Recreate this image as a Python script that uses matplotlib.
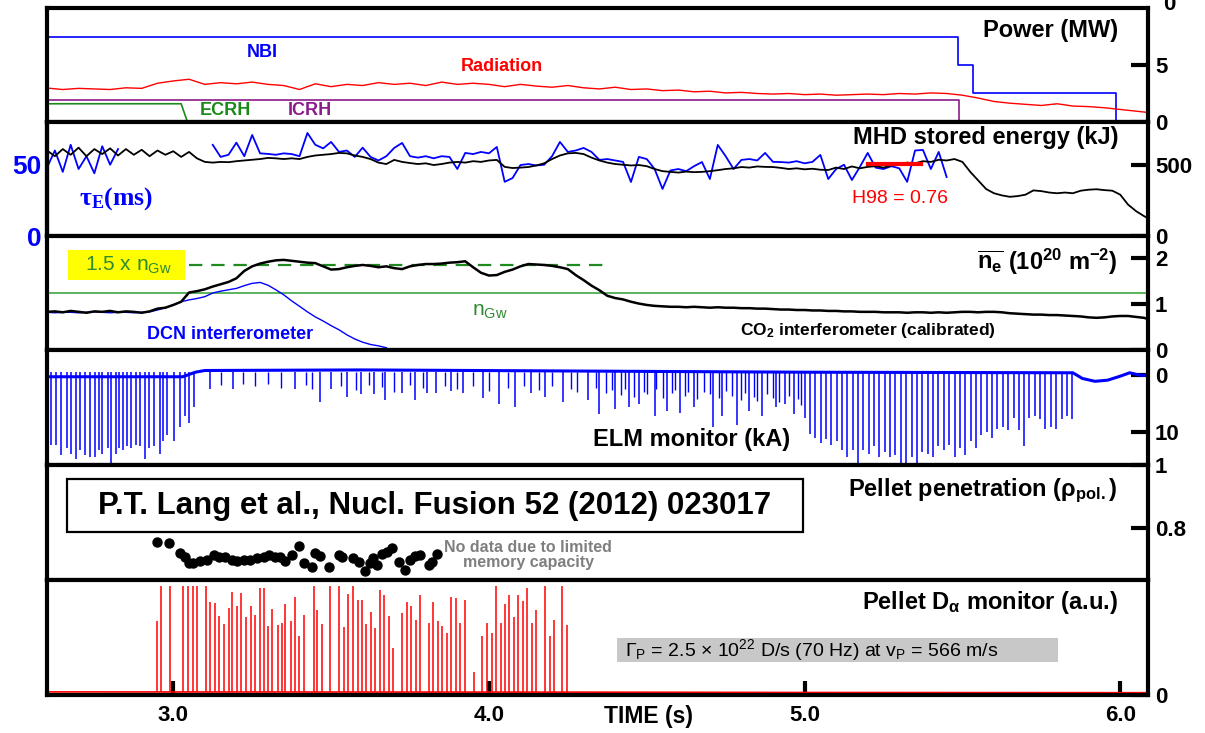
import numpy as np
import matplotlib
matplotlib.use('Agg')
import matplotlib.pyplot as plt
from matplotlib.patches import Rectangle

plt.rcParams['font.family'] = ['Liberation Sans', 'DejaVu Sans']
plt.rcParams['font.weight'] = 'bold'
plt.rcParams['mathtext.default'] = 'regular'

# ---------------- data ----------------
T0 = 2.60          # start of all sampled traces (s)
DT = 0.025         # sampling of W_MHD, tau_E and line density
DT_RAD = 0.05      # sampling of radiated power

# heating power (MW), piecewise constant
nbi_t = [2.60, 5.487, 5.534, 5.987, 6.10]
nbi_p = [7.45, 5.0, 2.55, 0.0, 0.0]
icrh_t = [2.60, 5.49, 5.49]
icrh_p = [1.93, 1.93, 0.0]
ecrh_t = [2.60, 3.025, 3.045, 3.20]
ecrh_p = [1.6, 1.6, 0.0, 0.0]
radiation = [2.98, 2.85, 2.95, 2.90, 2.85, 3.0, 2.95, 3.4, 3.6, 3.75,
             3.3, 3.45, 3.35, 3.5, 3.3, 3.2, 2.85, 3.35, 3.1, 3.3,
             3.2, 3.45, 3.3, 3.4, 3.2, 3.5, 3.3, 3.4, 3.3, 3.1,
             3.3, 3.15, 3.05, 3.2, 3.0, 2.9, 3.05, 2.85, 2.9, 2.75,
             2.8, 2.65, 2.7, 2.55, 2.6, 2.5, 2.45, 2.5, 2.4, 2.45,
             2.35, 2.4, 2.45, 2.4, 2.5, 2.45, 2.55, 2.5, 2.35, 2.1,
             1.8, 1.65, 1.55, 1.45, 1.6, 1.4, 1.35, 1.25, 1.1, 0.95, 0.8]

# MHD stored energy (kJ)
w_mhd = [600, 560, 610, 570, 620, 560, 610, 575, 615, 565, 610, 570, 605, 560, 600, 570, 595, 555, 590,
         545, 520, 515, 520, 518, 525, 530, 535, 540, 548, 545, 540, 545, 540, 555, 565, 570, 575, 583, 580,
         565, 555, 540, 515,
         505, 534, 520, 512, 505, 510, 498, 505, 515, 520, 515, 525, 520, 530, 534, 485, 477, 480, 484, 495,
         510, 540, 565, 580, 583, 575, 550, 530, 515, 505, 500, 495, 498, 490,
         470, 455, 450, 445, 452, 448, 450, 455, 462, 470, 475, 484, 480, 488, 485, 484, 478, 470, 475, 468,
         472, 465, 463, 480,
         470, 488, 475, 485, 490, 480, 495, 505, 515, 510, 525, 520, 535, 530, 540, 520, 450, 390, 330, 300,
         285, 275, 280, 290, 320, 315, 305, 300, 305, 300, 318, 325, 328, 322, 318, 290, 220, 175, 140, 110]

# energy confinement time (ms), nan where not evaluated
nan = float('nan')
tau_e = [48, 60, 45, 64, 47, 56, 44, 63, 50, 61,
         nan, nan, nan, nan, nan, nan, nan, nan, nan, nan, nan,
         64, 55.5, 57, 65.5, 56, 70.9, 58, 57.6, 57, 58, 57.5, 56, 72.3, 64, 61.5, 66, 59, 60, 55.5, 62,
         55.5, 53, 56, 61.8, 65.3, 56, 55, 56, 54.5, 56, 55.5, 47, 58.3, 57.5, 59, 58, 62.5, 38, 40.7,
         49.8, 50.5, 49.5, 50, 56, 66, 59, 60, 61.8, 59, 53.4, 54, 53, 52, 37.9, 55.5, 54, 47, 33, 46,
         47, 45.5, 49, 51.9, 40, 63.9, 56, 47, 53.4, 54, 53, 58.3, 52, 51.9, 51.5, 52.5, 51, 52, 56.9,
         40, 47, 50, 39.3, 48.4, 58.3, 48, 47, 49, 47.5, 38, 60, 60.4, 47, 59, 41.4] + [nan] * 26
h98_t = [5.20, 5.37]
h98_w = 505

# line integrated density (1e20 m^-2)
n_gw = 1.24
gw_dash_t = [3.05, 4.36]
ne_co2 = [0.83, 0.84, 0.82, 0.85, 0.83, 0.81, 0.84, 0.83, 0.85, 0.82, 0.84, 0.83, 0.81, 0.84,
          0.90, 0.92, 0.98, 1.05, 1.25, 1.28, 1.32, 1.38, 1.43, 1.48, 1.56, 1.72, 1.82, 1.88, 1.92,
          1.95, 1.96, 1.94, 1.92, 1.90, 1.89, 1.82, 1.75, 1.76, 1.80, 1.83, 1.85, 1.83, 1.80, 1.82,
          1.78, 1.76, 1.82, 1.85, 1.87, 1.87, 1.88, 1.90, 1.91, 1.93,
          1.80, 1.68, 1.62, 1.63, 1.70, 1.75, 1.82, 1.87, 1.86, 1.85, 1.83, 1.80, 1.76, 1.63, 1.52,
          1.40, 1.30, 1.18, 1.13, 1.10, 1.05, 1.01, 0.98, 0.96, 0.95,
          0.94, 0.94, 0.93, 0.94, 0.93, 0.92, 0.93, 0.92, 0.92, 0.91, 0.91, 0.90, 0.90, 0.89, 0.88,
          0.88, 0.87, 0.87, 0.86, 0.86, 0.85, 0.85,
          0.84, 0.84, 0.83, 0.83, 0.83, 0.82, 0.82, 0.82, 0.81, 0.82, 0.82, 0.81, 0.82, 0.81, 0.82,
          0.83, 0.83, 0.82, 0.83, 0.83,
          0.82, 0.80, 0.79, 0.78, 0.77, 0.77, 0.76, 0.76, 0.75, 0.74, 0.73, 0.71, 0.70, 0.71, 0.73,
          0.74, 0.74, 0.72, 0.70, 0.65]
ne_dcn = [0.82, 0.81, 0.82, 0.82, 0.81, 0.82, 0.83, 0.82, 0.81, 0.82, 0.82, 0.81, 0.82, 0.83,
          0.87, 0.92, 0.98, 1.05, 1.09, 1.12, 1.16, 1.24, 1.28, 1.31, 1.34, 1.40, 1.45, 1.47, 1.41,
          1.31, 1.20, 1.07, 0.95, 0.83, 0.72, 0.63, 0.53, 0.44, 0.33, 0.24, 0.17, 0.12, 0.09, 0.05]

# ELM monitor (kA): baseline and individual ELM amplitudes
elm_base_t = [2.60, 3.03, 3.07, 3.10, 3.60, 4.30, 5.00, 5.85, 5.88, 5.92, 5.96, 6.00, 6.03, 6.06, 6.10]
elm_base_v = [0.3, 0.3, -0.5, -0.8, -0.9, -0.7, -0.5, -0.4, 0.6, 1.1, 0.9, 0.2, -0.4, 0.0, 0.1]
elm_t = [2.614, 2.629, 2.645, 2.664, 2.677, 2.693, 2.705, 2.721, 2.737, 2.753, 2.766, 2.775,
         2.794, 2.804, 2.819, 2.829, 2.842, 2.854, 2.867, 2.883, 2.895, 2.911, 2.924, 2.940,
         2.959, 2.968, 2.981, 3.003, 3.022, 3.038, 3.051, 3.067,
         3.117, 3.190, 3.386, 3.466, 3.500, 3.551, 3.596, 3.637, 3.672, 3.725, 3.767, 3.805,
         3.833, 3.881, 3.919, 3.982, 4.033, 4.083, 4.134, 4.178, 4.235, 4.315,
         4.349, 4.400, 4.445, 4.474, 4.525, 4.564, 4.604, 4.649, 4.711, 4.740, 4.785, 4.824,
         4.864, 4.909, 4.938, 4.966, 5.000, 5.017, 5.034, 5.051, 5.068, 5.085, 5.102, 5.119,
         5.135, 5.152, 5.169, 5.186, 5.203, 5.220, 5.237, 5.254, 5.271, 5.288, 5.305, 5.322,
         5.339, 5.356, 5.373, 5.390, 5.407, 5.424, 5.441, 5.458, 5.475, 5.492, 5.509, 5.526,
         5.543, 5.560, 5.577, 5.594, 5.611, 5.628, 5.645, 5.662, 5.679, 5.695, 5.712, 5.729,
         5.746, 5.763, 5.780, 5.797, 5.814, 5.831, 5.848]
elm_d = [12.2, 12.2, 14.1, 12.8, 13.8, 14.7, 13.2, 14.1, 14.4, 14.4, 13.2, 13.8,
         12.8, 16.0, 13.8, 12.8, 13.2, 12.5, 12.8, 12.2, 12.5, 14.7, 12.8, 12.5,
         13.8, 11.6, 10.6, 11.6, 9.1, 7.2, 8.5, 5.6,
         2.5, 2.5, 2.5, 4.7, 2.5, 3.8, 3.4, 3.4, 4.4, 3.1, 4.4, 3.1,
         3.1, 2.8, 3.1, 4.1, 5.0, 5.6, 3.1, 3.8, 4.7, 4.4,
         6.9, 6.0, 5.6, 5.0, 7.2, 6.3, 6.6, 5.6, 9.1, 7.2, 8.8, 6.3,
         7.2, 5.6, 5.0, 6.9, 7.5, 10.3, 11.0, 11.9, 11.3, 12.2, 11.6, 13.2,
         14.4, 13.2, 16.0, 13.2, 13.8, 12.5, 14.4, 13.5, 14.4, 14.1, 15.7, 15.7,
         14.4, 15.7, 13.5, 13.8, 14.4, 12.5, 13.2, 12.2, 14.4, 12.8, 14.1, 11.6,
         12.8, 10.6, 10.0, 11.0, 9.4, 9.1, 9.7, 7.5, 9.7, 12.5, 7.5, 7.2,
         7.8, 9.4, 9.1, 9.4, 7.8, 7.2, 7.8]
small_elm_t = [3.15, 3.22, 3.26, 3.30, 3.34, 3.42, 3.44, 3.53, 3.58, 3.62, 3.66, 3.70, 3.75,
               3.79, 3.86, 3.90, 3.95, 4.00, 4.06, 4.11, 4.16, 4.20, 4.26, 4.28, 4.34, 4.37,
               4.39, 4.42, 4.43, 4.46, 4.49, 4.50, 4.53, 4.55, 4.58, 4.59, 4.62, 4.63, 4.66,
               4.68, 4.70, 4.73, 4.75, 4.77, 4.80, 4.81, 4.84, 4.85, 4.88, 4.90, 4.92, 4.95,
               4.98, 4.99]
small_elm_d = [1.8, 1.5, 2.0, 1.6, 2.2, 1.7, 2.4, 1.9, 2.6, 1.8, 2.1, 2.9, 1.7,
               2.3, 1.9, 2.5, 2.0, 2.8, 2.2, 1.9, 2.6, 2.0, 2.4, 3.0, 2.2, 3.2,
               2.6, 3.5, 2.4, 3.8, 2.9, 3.3, 2.5, 4.0, 3.1, 2.7, 3.6, 2.9, 4.2,
               3.0, 3.4, 4.1, 2.8, 3.7, 4.4, 3.2, 3.9, 4.6, 3.3, 4.0, 4.8, 3.6,
               4.2, 5.2]

# pellet penetration (rho_pol)
pen_t = [2.948, 2.985, 3.022, 3.038, 3.049, 3.064, 3.086, 3.107, 3.128, 3.144, 3.165, 3.186,
         3.202, 3.223, 3.244, 3.265, 3.286, 3.302, 3.323, 3.339, 3.355, 3.376, 3.397, 3.413,
         3.439, 3.450, 3.466, 3.492, 3.524, 3.534, 3.571, 3.587, 3.608, 3.624, 3.634, 3.645,
         3.661, 3.677, 3.693, 3.714, 3.735, 3.751, 3.767, 3.782, 3.809, 3.819, 3.835]
pen_rho = [0.757, 0.753, 0.722, 0.707, 0.690, 0.690, 0.696, 0.700, 0.714, 0.709, 0.707, 0.700,
           0.696, 0.698, 0.700, 0.704, 0.709, 0.714, 0.709, 0.707, 0.696, 0.714, 0.743, 0.688,
           0.677, 0.720, 0.711, 0.677, 0.714, 0.707, 0.704, 0.693, 0.665, 0.690, 0.704, 0.683,
           0.717, 0.725, 0.735, 0.693, 0.667, 0.700, 0.711, 0.714, 0.683, 0.693, 0.717]

# pellet D-alpha monitor (a.u.)
da_base_t = [2.60, 4.30, 5.00, 6.10]
da_base_v = [0.027, 0.025, 0.022, 0.020]
da_t = [2.948, 2.961, 2.989, 3.030, 3.046, 3.061, 3.075, 3.103, 3.116, 3.131, 3.145, 3.160,
        3.175, 3.187, 3.201, 3.216, 3.230, 3.245, 3.259, 3.274, 3.288, 3.299, 3.314, 3.332,
        3.345, 3.355, 3.372, 3.385, 3.399, 3.413, 3.445, 3.456, 3.470, 3.498, 3.526, 3.541,
        3.555, 3.570, 3.584, 3.598, 3.612, 3.625, 3.640, 3.655, 3.669, 3.682, 3.697, 3.725,
        3.739, 3.754, 3.768, 3.783, 3.810, 3.823, 3.838, 3.852, 3.867, 3.880, 3.895, 3.909,
        3.924, 3.954, 3.979, 3.994, 4.010, 4.024, 4.038, 4.051, 4.064, 4.079, 4.093, 4.108,
        4.121, 4.136, 4.149, 4.178, 4.193, 4.207, 4.233, 4.248]
da_h = [0.64, 0.95, 0.95, 0.95, 0.95, 0.95, 0.95, 0.95, 0.81, 0.80, 0.69, 0.62,
        0.76, 0.90, 0.77, 0.89, 0.68, 0.77, 0.70, 0.93, 0.93, 0.60, 0.75, 0.61,
        0.63, 0.79, 0.64, 0.85, 0.51, 0.70, 0.95, 0.74, 0.62, 0.95, 0.95, 0.59,
        0.88, 0.95, 0.83, 0.83, 0.62, 0.72, 0.58, 0.91, 0.87, 0.69, 0.41, 0.71,
        0.81, 0.77, 0.65, 0.87, 0.63, 0.81, 0.64, 0.60, 0.54, 0.85, 0.84, 0.63,
        0.83, 0.20, 0.51, 0.63, 0.54, 0.95, 0.63, 0.79, 0.87, 0.68, 0.87, 0.82,
        0.93, 0.63, 0.74, 0.95, 0.51, 0.65, 0.95, 0.61]

# ---------------- figure ----------------
W_PX, H_PX = 1205, 733
fig = plt.figure(figsize=(W_PX / 100, H_PX / 100), dpi=100)

edges = [8, 122, 236, 350, 465, 580, 695]
axes = []
for k in range(6):
    top, bot = edges[k], edges[k + 1]
    ax = fig.add_axes([47 / W_PX, 1 - bot / H_PX, 1101 / W_PX, (bot - top) / H_PX])
    ax.set_xlim(2.60, 6.088)
    for s in ax.spines.values():
        s.set_linewidth(3)
    ax.yaxis.tick_right()
    ax.tick_params(axis='y', direction='in', length=12, width=3, labelsize=16, pad=5)
    ax.tick_params(axis='x', bottom=False, labelbottom=False)
    axes.append(ax)
ax1, ax2, ax3, ax4, ax5, ax6 = axes


def sampled(vals, dt=DT):
    return T0 + dt * np.arange(len(vals))


def label_right(ax, y, s, **kw):
    ax.text(5.993, y, s, transform=ax.get_xaxis_transform(), ha='right', va='center',
            fontsize=17, **kw)


# --- power ---
ax1.plot(nbi_t, nbi_p, color='#0000ff', lw=1.2, drawstyle='steps-post')
ax1.plot(icrh_t, icrh_p, color='#8b1a8b', lw=1.2)
ax1.plot(ecrh_t, ecrh_p, color='#1a8a1a', lw=1.2)
ax1.plot(sampled(radiation, DT_RAD), radiation, color='#ff0000', lw=1.0)
ax1.set_ylim(0, 10)
ax1.set_yticks([0, 5])
tr = ax1.get_xaxis_transform()
ax1.text(3.281, 0.61, 'NBI', color='#0000ff', transform=tr, ha='center', va='center', fontsize=13)
ax1.text(4.041, 0.49, 'Radiation', color='#ff0000', transform=tr, ha='center', va='center', fontsize=13)
ax1.text(3.164, 0.10, 'ECRH', color='#1a8a1a', transform=tr, ha='center', va='center', fontsize=13)
ax1.text(3.433, 0.10, 'ICRH', color='#8b1a8b', transform=tr, ha='center', va='center', fontsize=13)
# tick label of the trace above, only its lower part lies on the page
ax1.text(1.0136, 1.03, '0', transform=ax1.transAxes, ha='left', va='center', fontsize=16)
label_right(ax1, 0.80, 'Power (MW)')

# --- stored energy / tau_E ---
t_w = sampled(w_mhd)
ax2.plot(sampled(tau_e), np.array(tau_e) * 10, color='#0000ff', lw=1.3)
ax2.plot(t_w, w_mhd, color='black', lw=1.3)
ax2.plot(h98_t, [h98_w, h98_w], color='#ff0000', lw=3)
ax2.set_ylim(0, 800)
ax2.set_yticks([0, 500])
sec = ax2.secondary_yaxis('left', functions=(lambda w: w / 10, lambda te: te * 10))
sec.set_yticks([0, 50])
sec.tick_params(length=0, labelsize=19, labelcolor='#0000ff', pad=4)
sec.spines['left'].set_linewidth(3)
tr = ax2.get_xaxis_transform()
ax2.text(2.700, 0.33, r'$\tau_E$(ms)', color='#0000ff', transform=tr, ha='left', va='center',
         fontsize=18.5, family=['Liberation Serif', 'DejaVu Serif'])
ax2.text(5.302, 0.33, 'H98 = 0.76', color='#ff0000', transform=tr, ha='center', va='center',
         fontsize=14, fontweight='normal')
label_right(ax2, 0.86, 'MHD stored energy (kJ)')

# --- line density ---
ax3.axhline(n_gw, color='#4caf50', lw=1.3)
ax3.plot(gw_dash_t, [1.5 * n_gw, 1.5 * n_gw], color='#1f8a1f', lw=1.6, ls=(0, (6, 4)))
ax3.plot(sampled(ne_dcn), ne_dcn, color='#0000ff', lw=1.0)
ax3.plot(sampled(ne_co2), ne_co2, color='black', lw=1.8)
ax3.set_ylim(0, 2.48)
ax3.set_yticks([0, 1, 2])
tr = ax3.get_xaxis_transform()
ax3.add_patch(Rectangle((2.667, 0.614), 0.370, 0.263, transform=tr, facecolor='#ffff00',
                        edgecolor='none', zorder=3))
ax3.text(2.857, 0.745, r'1.5 x $n_{Gw}$', color='#2e8b2e', transform=tr, ha='center',
         va='center', fontsize=15, fontweight='normal', zorder=4)
ax3.text(4.003, 0.34, r'$n_{Gw}$', color='#2e8b2e', transform=tr, ha='center', va='center',
         fontsize=15, fontweight='normal')
ax3.text(3.180, 0.14, 'DCN interferometer', color='#0000ff', transform=tr, ha='center',
         va='center', fontsize=13)
ax3.text(5.201, 0.17, r'CO$_2$ interferometer (calibrated)', color='black', transform=tr,
         ha='center', va='center', fontsize=12.5)
label_right(ax3, 0.77, r'$\overline{n_e}$ (10$^{20}$ m$^{-2}$)')

# --- ELM monitor ---
ax4.plot(elm_base_t, elm_base_v, color='#0000ff', lw=2.2)
ax4.vlines(elm_t, -0.6, elm_d, color='#0000ff', lw=1.1)
ax4.vlines(small_elm_t, -0.6, small_elm_d, color='#0000ff', lw=1.0)
ax4.set_ylim(15.8, -4.4)
ax4.set_yticks([0, 10])
ax4.text(4.643, 0.22, 'ELM monitor (kA)', transform=ax4.get_xaxis_transform(), ha='center',
         va='center', fontsize=17)

# --- pellet penetration ---
ax5.scatter(pen_t, pen_rho, s=42, color='black', zorder=2)
ax5.set_ylim(0.635, 1.0)
ax5.set_yticks([0.8, 1.0])
ax5.set_yticklabels(['0.8', '1'])
tr = ax5.get_xaxis_transform()
ax5.add_patch(Rectangle((2.663, 0.417), 2.332, 0.461, transform=tr, facecolor='white',
                        edgecolor='black', lw=1.6, zorder=3))
ax5.text(3.829, 0.647, 'P.T. Lang et al., Nucl. Fusion 52 (2012) 023017', transform=tr,
         ha='center', va='center', fontsize=22.5, zorder=4)
ax5.text(4.124, 0.217, 'No data due to limited\nmemory capacity', transform=tr, ha='center',
         va='center', fontsize=11.5, color='#7f7f7f', linespacing=1.05)
label_right(ax5, 0.78, r'Pellet penetration ($\rho_{pol.}$)')

# --- pellet D-alpha ---
ax6.plot(da_base_t, da_base_v, color='#ff0000', lw=1.2)
ax6.vlines(da_t, 0.025, da_h, color='#ff0000', lw=1.1)
ax6.set_ylim(0, 1)
ax6.set_yticks([0])
tr = ax6.get_xaxis_transform()
ax6.add_patch(Rectangle((4.406, 0.287), 1.397, 0.209, transform=tr, facecolor='#c8c8c8',
                        edgecolor='none', zorder=3))
ax6.text(4.431, 0.39, r'$\Gamma_P$ = 2.5 $\times$ 10$^{22}$ D/s (70 Hz) at $v_P$ = 566 m/s',
         transform=tr, ha='left', va='center', fontsize=14, fontweight='normal', zorder=4)
label_right(ax6, 0.80, r'Pellet D$_\alpha$ monitor (a.u.)')
ax6.set_xticks([3, 4, 5, 6])
ax6.set_xticklabels(['3.0', '4.0', '5.0', '6.0'])
ax6.tick_params(axis='x', bottom=True, labelbottom=True, direction='in', length=10, width=3,
                labelsize=16, pad=7)
fig.text(648 / W_PX, 1 - 716 / H_PX, 'TIME (s)', ha='center', va='center', fontsize=16.5)

fig.savefig('out.png', dpi=100)
